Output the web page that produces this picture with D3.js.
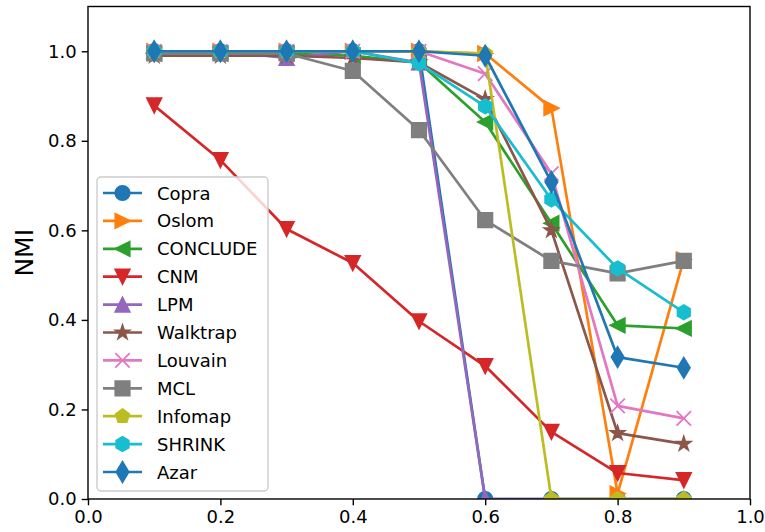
<!DOCTYPE html>
<html>
<head>
<meta charset="utf-8">
<script src="https://cdn.jsdelivr.net/npm/d3@7"></script>
<style>
  html, body { margin: 0; padding: 0; background: #fff; }
  svg { display: block; font-family: "DejaVu Sans", sans-serif; }
</style>
</head>
<body>
<svg id="chart" width="765" height="532"></svg>
<script>
// x positions (mu)
const xValues = [0.1, 0.2, 0.3, 0.4, 0.5, 0.6, 0.7, 0.8, 0.9];

// NMI per method
const copra    = [1.0, 1.0, 1.0, 1.0, 1.0, 0.0, 0.0, 0.0, 0.0];
const oslom    = [1.0, 1.0, 1.0, 1.0, 1.0, 0.995, 0.873, 0.012, 0.535];
const conclude = [0.995, 0.995, 0.995, 0.99, 0.975, 0.842, 0.616, 0.388, 0.381];
const cnm      = [0.879, 0.757, 0.603, 0.527, 0.397, 0.297, 0.15, 0.058, 0.042];
const lpm      = [1.0, 1.0, 0.985, 1.0, 0.975, 0.0, 0.0, 0.0, 0.0];
const walktrap = [0.99, 0.99, 0.99, 0.985, 0.975, 0.893, 0.6, 0.147, 0.123];
const louvain  = [1.0, 1.0, 1.0, 1.0, 1.0, 0.95, 0.727, 0.208, 0.18];
const mcl      = [0.995, 0.995, 0.995, 0.956, 0.824, 0.623, 0.532, 0.504, 0.532];
const infomap  = [1.0, 1.0, 1.0, 1.0, 1.0, 0.995, 0.0, 0.0, 0.0];
const shrink   = [1.0, 1.0, 1.0, 1.0, 0.973, 0.877, 0.669, 0.515, 0.417];
const azar     = [1.0, 1.0, 1.0, 1.0, 1.0, 0.99, 0.708, 0.317, 0.293];

const seriesNames = ['Copra', 'Oslom', 'CONCLUDE', 'CNM', 'LPM', 'Walktrap',
                     'Louvain', 'MCL', 'Infomap', 'SHRINK', 'Azar'];
const seriesValues = [copra, oslom, conclude, cnm, lpm, walktrap,
                      louvain, mcl, infomap, shrink, azar];
const seriesMarkers = ['o', '>', '<', 'v', '^', '*', 'x', 's', 'p', 'h', 'd'];

const xTicks = [0.0, 0.2, 0.4, 0.6, 0.8, 1.0];
const yTicks = [0.0, 0.2, 0.4, 0.6, 0.8, 1.0];

const colors = ['#1f77b4', '#ff7f0e', '#2ca02c', '#d62728', '#9467bd', '#8c564b',
                '#e377c2', '#7f7f7f', '#bcbd22', '#17becf', '#1f77b4'];

// layout
const margin = { top: 6.5, right: 15, bottom: 33, left: 88 };
const width = 765, height = 532;
const innerW = width - margin.left - margin.right;
const innerH = height - margin.top - margin.bottom;
const ms = 14.4;          // marker size px
const r = ms / 2;

const svg = d3.select('#chart');

const x = d3.scaleLinear().domain([0, 1.0]).range([0, innerW]);
const y = d3.scaleLinear().domain([0, 1.1]).range([innerH, 0]);

const g = svg.append('g').attr('transform', `translate(${margin.left},${margin.top})`);

g.append('defs').append('clipPath').attr('id', 'plot-clip')
  .append('rect').attr('x', 0).attr('y', 0).attr('width', innerW).attr('height', innerH);

// marker paths, like matplotlib's
function polygon(n, rad, rot) {
  const pts = [];
  for (let i = 0; i < n; i++) {
    const a = rot + i * 2 * Math.PI / n;
    pts.push([rad * Math.sin(a), -rad * Math.cos(a)]);
  }
  return 'M' + pts.map(p => p.join(',')).join('L') + 'Z';
}
function markerPath(m) {
  switch (m) {
    case 'o': return d3.symbol(d3.symbolCircle, Math.PI * r * r)();
    case '^': return `M0,${-r}L${-r},${r}L${r},${r}Z`;
    case 'v': return `M0,${r}L${-r},${-r}L${r},${-r}Z`;
    case '>': return `M${r},0L${-r},${-r}L${-r},${r}Z`;
    case '<': return `M${-r},0L${r},${-r}L${r},${r}Z`;
    case 's': return `M${-r},${-r}L${r},${-r}L${r},${r}L${-r},${r}Z`;
    case 'p': return polygon(5, r, 0);
    case 'h': return polygon(6, r, 0);
    case 'd': {
      const dy = 0.7071 * ms, dx = 0.6 * 0.7071 * ms;
      return `M0,${-dy}L${dx},0L0,${dy}L${-dx},0Z`;
    }
    case 'x': return `M${-r},${-r}L${r},${r}M${-r},${r}L${r},${-r}`;
    case '*': {
      const pts = [];
      for (let i = 0; i < 10; i++) {
        const rad = i % 2 === 0 ? r : r * 0.381966;
        const a = i * Math.PI / 5;
        pts.push([rad * Math.sin(a), -rad * Math.cos(a)]);
      }
      return 'M' + pts.map(p => p.join(',')).join('L') + 'Z';
    }
  }
}
function drawMarker(sel, m, color) {
  const p = sel.append('path').attr('d', markerPath(m))
    .attr('stroke', color).attr('stroke-width', 1.8).attr('stroke-linejoin', 'miter');
  p.attr('fill', m === 'x' ? 'none' : color);
  return p;
}

// series
const plot = g.append('g').attr('clip-path', 'url(#plot-clip)');
const line = d3.line().x((d, i) => x(xValues[i])).y(d => y(d));

seriesValues.forEach((vals, k) => {
  const sg = plot.append('g').attr('class', 'series');
  sg.append('path').datum(vals)
    .attr('d', line)
    .attr('fill', 'none')
    .attr('stroke', colors[k])
    .attr('stroke-width', 2.7)
    .attr('stroke-linejoin', 'round')
    .attr('stroke-linecap', 'square');
  vals.forEach((v, i) => {
    const mg = sg.append('g').attr('transform', `translate(${x(xValues[i])},${y(v)})`);
    drawMarker(mg, seriesMarkers[k], colors[k]);
  });
});

// axes
const xAxis = g.append('g').attr('transform', `translate(0,${innerH})`)
  .call(d3.axisBottom(x).tickValues(xTicks).tickFormat(d3.format('.1f'))
    .tickSize(6.3).tickPadding(5));
const yAxis = g.append('g')
  .call(d3.axisLeft(y).tickValues(yTicks).tickFormat(d3.format('.1f'))
    .tickSize(6.3).tickPadding(5));

[xAxis, yAxis].forEach(ax => {
  ax.select('.domain').remove();
  ax.selectAll('.tick line').attr('stroke', '#000').attr('stroke-width', 1.4);
  ax.selectAll('.tick text').attr('fill', '#000')
    .style('font-size', '18px').style('font-family', '"DejaVu Sans", sans-serif');
});

// frame
g.append('rect').attr('x', 0).attr('y', 0).attr('width', innerW).attr('height', innerH)
  .attr('fill', 'none').attr('stroke', '#000').attr('stroke-width', 1.4);

// y label
svg.append('text')
  .attr('transform', `translate(33,${margin.top + innerH / 2}) rotate(-90)`)
  .attr('text-anchor', 'middle')
  .style('font-size', '25px')
  .text('NMI');

// legend
const legX = 97, legY = 177, legW = 171, legH = 314, rowH = 27.9;
const leg = svg.append('g');
leg.append('rect').attr('x', legX).attr('y', legY).attr('width', legW).attr('height', legH)
  .attr('rx', 4).attr('fill', '#fff').attr('fill-opacity', 0.8)
  .attr('stroke', '#cccccc').attr('stroke-width', 1.4);

seriesNames.forEach((name, k) => {
  const cy = 193 + k * rowH;
  leg.append('line').attr('x1', 103).attr('x2', 142).attr('y1', cy).attr('y2', cy)
    .attr('stroke', colors[k]).attr('stroke-width', 2.7);
  const mg = leg.append('g').attr('transform', `translate(122.5,${cy})`);
  drawMarker(mg, seriesMarkers[k], colors[k]);
  leg.append('text').attr('x', 157).attr('y', cy + 6.5)
    .style('font-size', '18px').attr('fill', '#000').text(name);
});
</script>
</body>
</html>
